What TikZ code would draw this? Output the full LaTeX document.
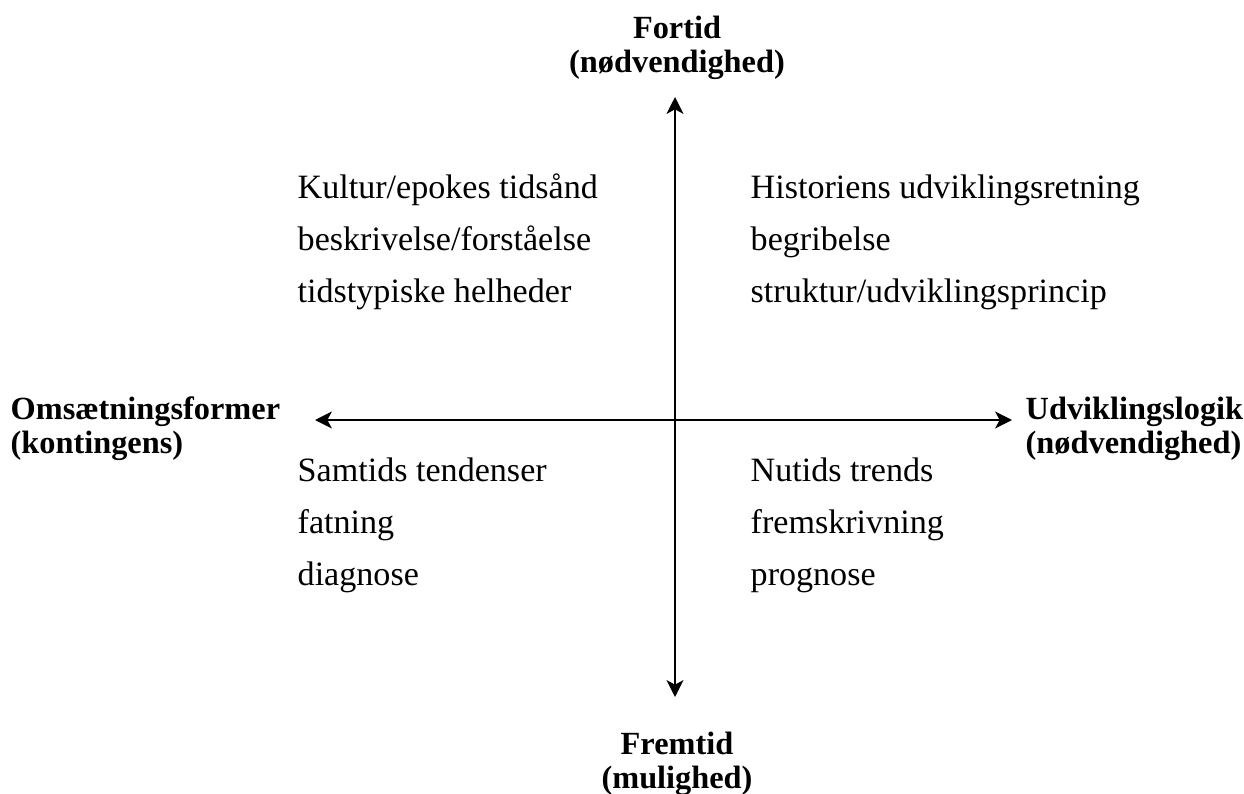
\documentclass[tikz,border=0pt]{standalone}
\usepackage{fontspec}
\setmainfont{Liberation Serif}
\usetikzlibrary{arrows.meta}

\begin{document}
\begin{tikzpicture}
        \tikzstyle{axis} = [line width=0.6pt,{Stealth[length=4.8pt,width=4.8pt,inset=1.3pt]}-{Stealth[length=4.8pt,width=4.8pt,inset=1.3pt]}]
        \tikzstyle{txt} = [anchor=base west,inner sep=0pt,font=\fontsize{9.7}{11}\selectfont]
        \tikzstyle{head} = [inner sep=0pt,font=\fontsize{9.2}{9.6}\selectfont\bfseries]
        \useasboundingbox (0,0) rectangle (12.44,7.93);

        \coordinate (top) at (6.75,6.96);
        \coordinate (bottom) at (6.75,0.96);
        \coordinate (left) at (3.15,3.73);
        \coordinate (right) at (10.12,3.73);

        \draw[axis] (top) -- (bottom);
        \draw[axis] (left) -- (right);

        \node[head,align=center] (past) at (6.77,7.45) {Fortid\\(nødvendighed)};
        \node[head,align=center] (future) at (6.77,0.29) {Fremtid\\(mulighed)};
        \node[head,align=left,anchor=west] (contingency) at (0.10,3.64) {Omsætningsformer\\(kontingens)};
        \node[head,align=left,anchor=west] (logic) at (10.25,3.64) {Udviklingslogik\\(nødvendighed)};

        \foreach \l/\x/\y/\t in {k1/2.97/5.95/Kultur\slash epokes tidsånd,
          k2/2.97/5.43/beskrivelse\slash forståelse, k3/2.97/4.91/tidstypiske helheder,
          h1/7.50/5.95/Historiens udviklingsretning, h2/7.50/5.43/begribelse,
          h3/7.50/4.91/struktur\slash udviklingsprincip,
          s1/2.97/3.12/Samtids tendenser, s2/2.97/2.60/fatning, s3/2.97/2.08/diagnose,
          n1/7.50/3.12/Nutids trends, n2/7.50/2.60/fremskrivning, n3/7.50/2.08/prognose} {
          \node[txt] (\l) at (\x,\y) {\t};
        }
\end{tikzpicture}
\end{document}
